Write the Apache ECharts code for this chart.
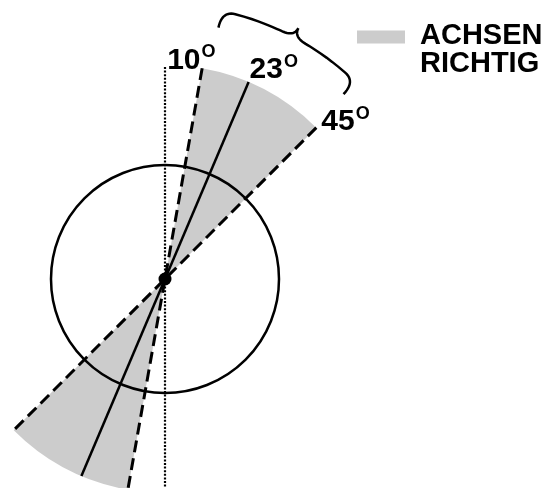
<!DOCTYPE html>
<html>
<head>
<meta charset="utf-8">
<script src="https://cdn.jsdelivr.net/npm/echarts@6/dist/echarts.min.js"></script>
<style>
html, body { margin: 0; padding: 0; background: #fff; }
#chart { width: 542px; height: 488px; }
</style>
</head>
<body>
<div id="chart"></div>
<script>
// angles in degrees, clockwise from the vertical
const wedgeAngles = [10, 45];
const meanAngles = [23];
const referenceAngles = [0];
const labelAngles = [10, 23, 45];
const labelTexts = ['10', '23', '45'];
const wedgeRadius = 214;
const circleRadius = [114];
const braceAngles = [12, 44];
const braceRadius = 257;
const legendName = 'ACHSEN RICHTIG';

const font = 'Liberation Sans, Arial, Helvetica, sans-serif';
const gray = '#cccccc';
// label placement relative to the wedge tip (left, bottom)
const labelOffsets = [[-35, 9], [1, 5], [5, 11]];

const rad = d => d * Math.PI / 180;
const polar = (deg, r) => [r * Math.sin(rad(deg)), r * Math.cos(rad(deg))];

function bracePath(a0, a1, r) {
  // curly brace bent along an arc, u along the angle, v outward
  const h1 = 17, h2 = 27, q = 0.09;
  const segs = [
    [[0, 0], [0, h1], [q, h1]],
    [[q, h1], [0.5 - q / 2, h1], [0.5 - q, h1]],
    [[0.5 - q, h1], [0.5, h1], [0.5, h2]],
    [[0.5, h2], [0.5, h1], [0.5 + q, h1]],
    [[0.5 + q, h1], [0.5 + q / 2, h1], [1 - q, h1]],
    [[1 - q, h1], [1, h1], [1, 0]]
  ];
  const pts = [];
  segs.forEach(s => {
    for (let i = 0; i <= 12; i++) {
      const t = i / 12;
      const u = (1 - t) * (1 - t) * s[0][0] + 2 * t * (1 - t) * s[1][0] + t * t * s[2][0];
      const v = (1 - t) * (1 - t) * s[0][1] + 2 * t * (1 - t) * s[1][1] + t * t * s[2][1];
      pts.push(polar(a0 + (a1 - a0) * u, r + v));
    }
  });
  return pts;
}

const myChart = echarts.init(document.getElementById('chart'));

const options = {
  animation: false,
  grid: { left: 0, right: 0, top: 0, bottom: 0 },
  xAxis: { type: 'value', min: -165, max: 377, show: false },
  yAxis: { type: 'value', min: -209, max: 279, show: false },
  legend: {
    data: [legendName],
    left: 357,
    top: 4,
    padding: 0,
    icon: 'rect',
    itemWidth: 48,
    itemHeight: 13,
    formatter: () => '{e| }\n{a|ACHSEN}\n{a|RICHTIG}',
    textStyle: {
      padding: [0, 0, 0, 10],
      rich: {
        e: { fontSize: 10, lineHeight: 26 },
        a: { fontFamily: font, fontSize: 29, fontWeight: 'bold', color: '#000', lineHeight: 28 }
      }
    }
  },
  series: [
    {
      name: legendName,
      type: 'custom',
      itemStyle: { color: gray },
      data: [
        [wedgeAngles[0], wedgeAngles[1], wedgeRadius],
        [wedgeAngles[0] + 180, wedgeAngles[1] + 180, wedgeRadius]
      ],
      renderItem: (params, api) => {
        const c = api.coord([0, 0]);
        const r = api.size([api.value(2), 0])[0];
        return {
          type: 'sector',
          shape: {
            cx: c[0], cy: c[1], r0: 0, r: r,
            startAngle: rad(api.value(0) - 90),
            endAngle: rad(api.value(1) - 90),
            clockwise: true
          },
          style: { fill: gray }
        };
      }
    },
    {
      type: 'custom',
      data: circleRadius.map(r => [r]),
      renderItem: (params, api) => {
        const c = api.coord([0, 0]);
        return {
          type: 'circle',
          shape: { cx: c[0], cy: c[1], r: api.size([api.value(0), 0])[0] },
          style: { fill: 'none', stroke: '#000', lineWidth: 2.5 }
        };
      }
    },
    {
      type: 'custom',
      data: referenceAngles.map(a => [a]),
      renderItem: (params, api) => {
        const a = api.value(0);
        const p1 = api.coord(polar(a, 212));
        const p2 = api.coord(polar(a + 180, 220));
        return {
          type: 'line',
          shape: { x1: p1[0], y1: p1[1], x2: p2[0], y2: p2[1] },
          style: { stroke: '#000', lineWidth: 2.2, lineDash: [2, 1.6] }
        };
      }
    },
    {
      type: 'custom',
      data: wedgeAngles.map(a => [a, wedgeRadius]),
      renderItem: (params, api) => {
        const a = api.value(0);
        const p1 = api.coord(polar(a, api.value(1)));
        const p2 = api.coord(polar(a + 180, api.value(1)));
        return {
          type: 'line',
          shape: { x1: p1[0], y1: p1[1], x2: p2[0], y2: p2[1] },
          style: { stroke: '#000', lineWidth: 3, lineDash: [12, 6] }
        };
      }
    },
    {
      type: 'custom',
      data: meanAngles.map(a => [a, wedgeRadius]),
      renderItem: (params, api) => {
        const a = api.value(0);
        const p1 = api.coord(polar(a, api.value(1)));
        const p2 = api.coord(polar(a + 180, api.value(1)));
        return {
          type: 'line',
          shape: { x1: p1[0], y1: p1[1], x2: p2[0], y2: p2[1] },
          style: { stroke: '#000', lineWidth: 2.5 }
        };
      }
    },
    {
      type: 'custom',
      data: [[0, 0]],
      renderItem: (params, api) => {
        const c = api.coord([api.value(0), api.value(1)]);
        return {
          type: 'circle',
          shape: { cx: c[0], cy: c[1], r: 6.5 },
          style: { fill: '#000' }
        };
      }
    },
    {
      type: 'custom',
      data: [[braceAngles[0], braceAngles[1], braceRadius]],
      renderItem: (params, api) => {
        const pts = bracePath(api.value(0), api.value(1), api.value(2)).map(p => api.coord(p));
        return {
          type: 'polyline',
          shape: { points: pts },
          style: { fill: 'none', stroke: '#000', lineWidth: 2.5 }
        };
      }
    },
    {
      type: 'custom',
      data: labelAngles.map((a, i) => [a, wedgeRadius, i]),
      renderItem: (params, api) => {
        const i = api.value(2);
        const p = api.coord(polar(api.value(0), api.value(1)));
        return {
          type: 'text',
          style: {
            x: p[0] + labelOffsets[i][0],
            y: p[1] + labelOffsets[i][1],
            text: '{n|' + labelTexts[i] + '}{s|O}',
            align: 'left',
            verticalAlign: 'bottom',
            rich: {
              n: { fontFamily: font, fontSize: 30, fontWeight: 'bold', lineHeight: 34, fill: '#000' },
              s: { fontFamily: font, fontSize: 18, fontWeight: 'bold', lineHeight: 18, verticalAlign: 'top', padding: [0, 0, 0, 1], fill: '#000' }
            }
          }
        };
      }
    }
  ]
};
myChart.setOption(options);
</script>
</body>
</html>
